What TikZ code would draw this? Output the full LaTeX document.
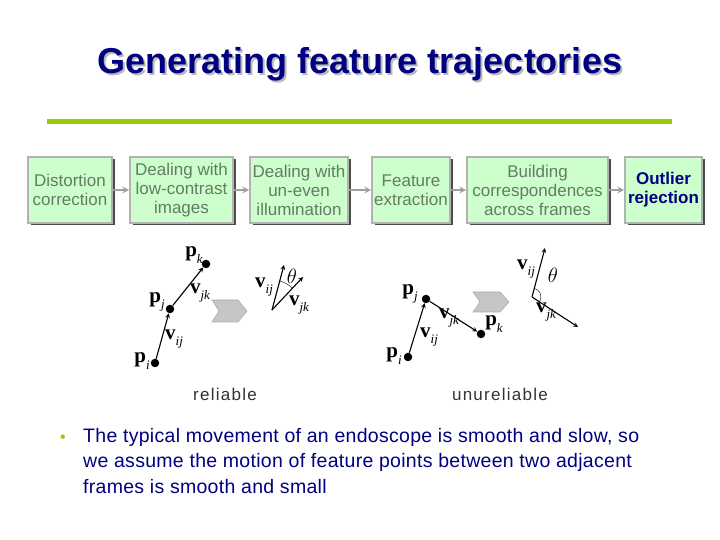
\documentclass[tikz,border=0pt]{standalone}
\usepackage[no-math]{fontspec}
\setmainfont{Liberation Sans}
\newfontfamily\vecfont{Liberation Serif}
\newcommand{\vlab}[2]{{\vecfont\bfseries #1}\raisebox{-0.3em}{\vecfont\itshape\fontsize{13}{13}\selectfont #2}}
\usetikzlibrary{shadows}
\definecolor{navy}{RGB}{0,0,128}
\definecolor{boxgreen}{RGB}{204,255,204}
\definecolor{boxtext}{RGB}{100,124,100}
\definecolor{rulegreen}{RGB}{153,204,0}
\begin{document}
\begin{tikzpicture}[x=1pt,y=1pt,>=stealth,
    stepbox/.style={draw=gray!60,line width=1.6pt,fill=boxgreen,align=center,text=boxtext,
      font=\fontsize{17}{19}\selectfont,minimum height=66,inner sep=0pt,
      drop shadow={shadow xshift=2.5pt,shadow yshift=-2.5pt,fill=black!70,opacity=1}},
    flow/.style={->,draw=gray!75,line width=2pt},
    ptdot/.style={circle,fill=black,inner sep=0pt,minimum size=8.5pt},
    vec/.style={->,line width=1.1pt},
    lbl/.style={font=\fontsize{21}{21}\selectfont,inner sep=0pt},
    caption/.style={font=\fontsize{17}{17}\selectfont\addfontfeature{LetterSpace=7.5},text=black!80},
    bigarrow/.style={fill=gray!45,draw=gray!65,line width=0.6pt}]
  \fill[white] (0,0) rectangle (720,540);
  \useasboundingbox (0,0) rectangle (720,540);
  \node[text=gray!55,font=\fontsize{36}{36}\selectfont\bfseries] at (362,474) {Generating feature trajectories};
  \node[text=navy,font=\fontsize{36}{36}\selectfont\bfseries] (title) at (360,476) {Generating feature trajectories};
  \draw[rulegreen,line width=5pt] (47,418) -- (672,418);
  \node[stepbox,minimum width=84] (dist) at (70,350) {Distortion\\correction};
  \node[stepbox,minimum width=103] (contrast) at (181.5,350) {Dealing with\\low-contrast\\images};
  \node[stepbox,minimum width=98] (illum) at (299,350) {Dealing with\\un-even\\illumination};
  \node[stepbox,minimum width=78] (feat) at (411,350) {Feature\\extraction};
  \node[stepbox,minimum width=141] (corr) at (537.5,350) {Building\\correspondences\\across frames};
  \node[stepbox,minimum width=77,text=navy,font=\fontsize{17}{19}\selectfont\bfseries] (outl) at (663.5,350) {Outlier\\rejection};
  \draw[flow] (dist) -- (contrast);
  \draw[flow] (contrast) -- (illum);
  \draw[flow] (illum) -- (feat);
  \draw[flow] (feat) -- (corr);
  \draw[flow] (corr) -- (outl);
  \node[ptdot] (pi1) at (155,177) {};
  \node[ptdot] (pj1) at (170,231) {};
  \node[ptdot] (pk1) at (206,276) {};
  \draw[vec] (pi1) -- (pj1);
  \draw[vec] (pj1) -- (pk1);
  \node[lbl] (lpi1) at (142,179) {\vlab{p}{i}};
  \node[lbl] (lpj1) at (157,238) {\vlab{p}{j}};
  \node[lbl] (lpk1) at (194,285) {\vlab{p}{k}};
  \node[lbl] (lvij1) at (174,201) {\vlab{v}{ij}};
  \node[lbl] (lvjk1) at (200,247) {\vlab{v}{jk}};
  \draw[bigarrow] (212,218) -- (238,218) -- (247,229) -- (238,240) -- (212,240) -- (219,229) -- cycle;
  \coordinate (o1) at (272,230);
  \coordinate (a1) at (284,275);
  \coordinate (b1) at (303,263);
  \draw[vec] (o1) -- (a1);
  \draw[vec] (o1) -- (b1);
  \draw (o1) ++(47:30) arc[start angle=47,end angle=75,radius=30];
  \node[lbl] (lvij2) at (264,253) {\vlab{v}{ij}};
  \node[lbl] (lvjk2) at (299,235) {\vlab{v}{jk}};
  \node[lbl] (th1) at (292,264) {$\theta$};
  \node[ptdot] (pi2) at (408,183) {};
  \node[ptdot] (pj2) at (426,241) {};
  \node[ptdot] (pk2) at (481,206) {};
  \draw[vec] (pi2) -- (pj2);
  \draw[vec] (pj2) -- (pk2);
  \node[lbl] (lpi2) at (394,184) {\vlab{p}{i}};
  \node[lbl] (lpj2) at (410,246) {\vlab{p}{j}};
  \node[lbl] (lpk2) at (494,216) {\vlab{p}{k}};
  \node[lbl] (lvij3) at (429,203) {\vlab{v}{ij}};
  \node[lbl] (lvjk3) at (449,222) {\vlab{v}{jk}};
  \draw[bigarrow] (473,228) -- (500,228) -- (509,238) -- (500,248) -- (473,248) -- (480,238) -- cycle;
  \coordinate (o2) at (532,243);
  \coordinate (a2) at (545,292);
  \coordinate (b2) at (578,213);
  \draw[vec] (o2) -- (a2);
  \draw[vec] (o2) -- (b2);
  \draw (o2) ++(-33:9) arc[start angle=-33,end angle=75,radius=9];
  \node[lbl] (lvij4) at (526,271) {\vlab{v}{ij}};
  \node[lbl] (lvjk4) at (546,228) {\vlab{v}{jk}};
  \node[lbl,font=\fontsize{22}{22}\selectfont] (th2) at (553,265) {$\theta$};
  \node[caption] (rel) at (225,146) {reliable};
  \node[caption] (unrel) at (500,146) {unureliable};
  \node[text=rulegreen,font=\fontsize{16}{16}\selectfont] (bul) at (63,101) {\textbullet};
  \node[anchor=north west,align=left,inner sep=0pt,text=navy,font=\fontsize{19.5}{25.5}\selectfont\addfontfeature{LetterSpace=1.5}] (txt) at (83,112)
    {The typical movement of an endoscope is smooth and slow, so\\we assume the motion of feature points between two adjacent\\frames is smooth and small};
\end{tikzpicture}
\end{document}
